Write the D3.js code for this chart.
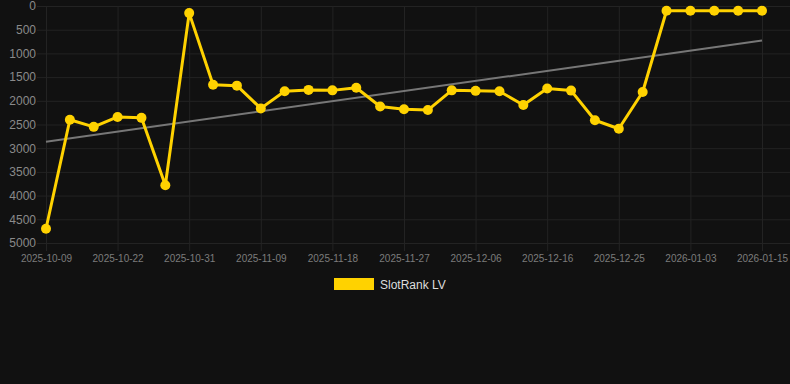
<!DOCTYPE html>
<html>
<head>
<meta charset="utf-8">
<script src="https://cdn.jsdelivr.net/npm/d3@7"></script>
<style>
  html, body { margin: 0; padding: 0; background: #111111; }
  svg { display: block; font-family: "Liberation Sans", Arial, sans-serif; }
</style>
</head>
<body>
<div id="chart"></div>
<script>
// chart data
var dates = ["2025-10-09", "2025-10-13", "2025-10-18", "2025-10-22", "2025-10-25", "2025-10-28",
    "2025-10-31", "2025-11-03", "2025-11-06", "2025-11-09", "2025-11-12", "2025-11-15",
    "2025-11-18", "2025-11-21", "2025-11-24", "2025-11-27", "2025-11-30", "2025-12-03",
    "2025-12-06", "2025-12-09", "2025-12-13", "2025-12-16", "2025-12-19", "2025-12-22",
    "2025-12-25", "2025-12-28", "2025-12-31", "2026-01-03", "2026-01-07", "2026-01-11", "2026-01-15"];
var ranks = [4700, 2400, 2550, 2340, 2360, 3780, 150, 1660, 1680, 2160, 1800, 1770,
    1780, 1725, 2120, 2180, 2195, 1780, 1790, 1800, 2090, 1740, 1785, 2410,
    2590, 1815, 100, 100, 100, 100, 100];
var yTicks = [0, 500, 1000, 1500, 2000, 2500, 3000, 3500, 4000, 4500, 5000];
var xTickDates = ["2025-10-09", "2025-10-22", "2025-10-31", "2025-11-09", "2025-11-18", "2025-11-27",
    "2025-12-06", "2025-12-16", "2025-12-25", "2026-01-03", "2026-01-15"];
var seriesName = "SlotRank LV";

var width = 790;
var height = 384;
var plot = { left: 37, right: 790, top: 6, bottom: 243 };

var svg = d3.select('#chart')
    .append("svg")
    .attr("width", width)
    .attr("height", height);

svg.append("rect")
    .attr("width", width)
    .attr("height", height)
    .style("fill", "#111111");

var xScale = d3.scalePoint()
    .domain(dates)
    .range([46, 762]);
var yScale = d3.scaleLinear()
    .domain([0, 5000])
    .range([plot.top, plot.bottom]);

// horizontal grid + y labels
var yAxis = svg.append('g')
    .attr('transform', "translate(" + plot.left + ",0)")
    .call(d3.axisLeft(yScale).tickValues(yTicks).tickSize(-(plot.right - plot.left)).tickPadding(2).tickFormat(d3.format("d")));
yAxis.select(".domain").remove();
yAxis.selectAll(".tick line").style("stroke", "#232323");
yAxis.selectAll(".tick text")
    .style("fill", "#8a8a8a")
    .style("font-size", "12px")
    .attr("x", -1);

// vertical grid + x labels
var xAxis = svg.append('g')
    .attr('transform', "translate(0," + plot.bottom + ")")
    .call(d3.axisBottom(xScale).tickValues(xTickDates).tickSize(8).tickPadding(4));
xAxis.select(".domain").remove();
xAxis.selectAll(".tick line")
    .attr("y1", -(plot.bottom - plot.top))
    .style("stroke", "#232323");
xAxis.selectAll(".tick text")
    .style("fill", "#7c7c7c")
    .style("font-size", "10px");

// linear trend
var n = ranks.length;
var xm = d3.mean(ranks, function (d, i) { return i; });
var ym = d3.mean(ranks);
var num = d3.sum(ranks, function (d, i) { return (i - xm) * (d - ym); });
var den = d3.sum(ranks, function (d, i) { return (i - xm) * (i - xm); });
var slope = num / den;
var icpt = ym - slope * xm;
svg.append("line")
    .attr("x1", xScale(dates[0]))
    .attr("y1", yScale(icpt))
    .attr("x2", xScale(dates[n - 1]))
    .attr("y2", yScale(icpt + slope * (n - 1)))
    .style("stroke", "#777777")
    .style("stroke-width", 2);

// series
var line = d3.line()
    .x(function (d, i) { return xScale(dates[i]); })
    .y(function (d) { return yScale(d); });
svg.append("path")
    .datum(ranks)
    .attr("d", line)
    .style("fill", "none")
    .style("stroke", "#FFD200")
    .style("stroke-width", 3)
    .style("stroke-linejoin", "round");
svg.append("g").selectAll("circle")
    .data(ranks)
    .enter()
    .append("circle")
    .attr("cx", function (d, i) { return xScale(dates[i]); })
    .attr("cy", function (d) { return yScale(d); })
    .attr("r", 5)
    .style("fill", "#FFD200");

// legend
var legend = svg.append("g").attr("transform", "translate(334,278)");
legend.append("rect")
    .attr("width", 40)
    .attr("height", 12)
    .style("fill", "#FFD200");
legend.append("text")
    .text(seriesName)
    .attr("x", 46)
    .attr("y", 10.5)
    .style("fill", "#dddddd")
    .style("font-size", "12px");
</script>
</body>
</html>
